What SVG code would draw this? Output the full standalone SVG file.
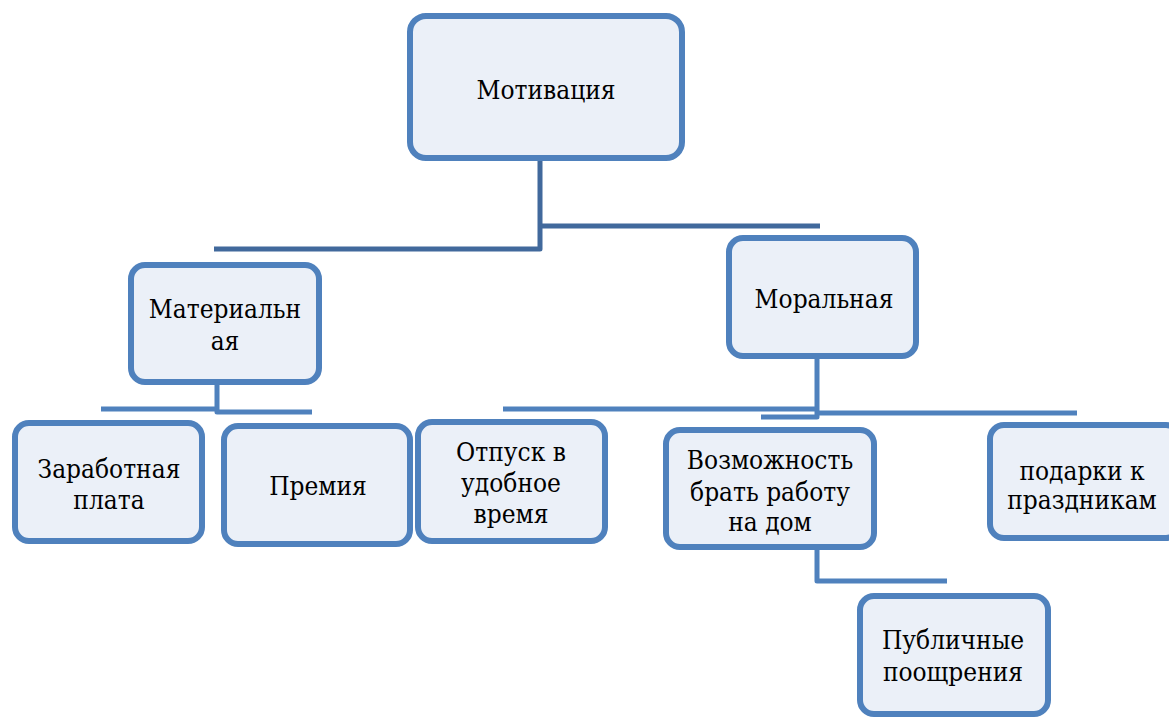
<svg xmlns="http://www.w3.org/2000/svg" width="1169" height="717" viewBox="0 0 1169 717">
<style>
.box{fill:#EBF0F8;stroke:#4F81BD;stroke-width:6}
.ln{fill:none;stroke:#4F81BD;stroke-width:5;stroke-linejoin:round}
.dk{stroke:#41699C}
.t{font-family:'DejaVu Serif Condensed','DejaVu Serif',serif;font-stretch:condensed;font-size:26px;fill:#000;text-anchor:middle}
</style>
<rect width="1169" height="717" fill="#fff"/>
<g id="connectors">
<polyline class="ln dk" points="540,160 540,249 214,249"/>
<polyline class="ln dk" points="540,226 820,226"/>
<polyline class="ln" points="217,383 217,412 312,412"/>
<polyline class="ln" points="217,409 101,409"/>
<polyline class="ln" points="817,358 817,417 761,417"/>
<polyline class="ln" points="817,409 503,409"/>
<polyline class="ln" points="817,413 1077,413"/>
<polyline class="ln" points="817,549 817,581 947,581"/>
</g>
<g id="n-motivation"><rect class="box" x="410" y="16" width="272" height="142" rx="16"/><text class="t" x="546" y="99">Мотивация</text></g>
<g id="n-material"><rect class="box" x="131" y="265" width="188" height="117" rx="14"/><text class="t" x="225" y="318">Материальн</text><text class="t" x="225" y="350">ая</text></g>
<g id="n-moral"><rect class="box" x="729" y="238" width="187" height="118" rx="14"/><text class="t" x="824" y="308">Моральная</text></g>
<g id="n-salary"><rect class="box" x="15" y="423" width="187" height="118" rx="14"/><text class="t" x="109" y="478">Заработная</text><text class="t" x="109" y="509">плата</text></g>
<g id="n-bonus"><rect class="box" x="224" y="426" width="186" height="118" rx="14"/><text class="t" x="318" y="495">Премия</text></g>
<g id="n-vacation"><rect class="box" x="418" y="422" width="187" height="119" rx="14"/><text class="t" x="511" y="461">Отпуск в</text><text class="t" x="511" y="492">удобное</text><text class="t" x="511" y="523">время</text></g>
<g id="n-homework"><rect class="box" x="666" y="430" width="208" height="117" rx="14"/><text class="t" x="770" y="469">Возможность</text><text class="t" x="770" y="501">брать работу</text><text class="t" x="770" y="531">на дом</text></g>
<g id="n-gifts"><rect class="box" x="990" y="425" width="190" height="113" rx="14"/><text class="t" x="1082" y="480">подарки к</text><text class="t" x="1082" y="509">праздникам</text></g>
<g id="n-public"><rect class="box" x="860" y="596" width="188" height="118" rx="14"/><text class="t" x="953" y="649">Публичные</text><text class="t" x="953" y="681">поощрения</text></g>
</svg>
